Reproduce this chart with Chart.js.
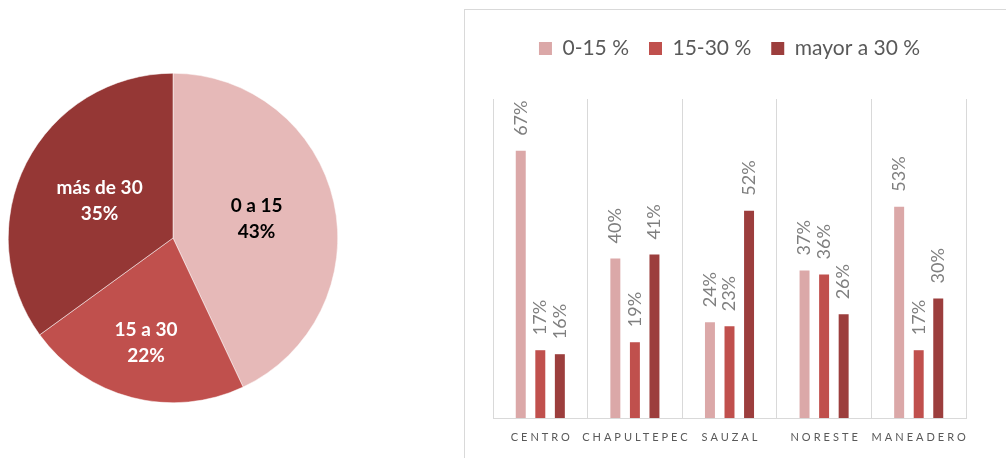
<!DOCTYPE html>
<html>
<head>
<meta charset="utf-8">
<script src="https://cdn.jsdelivr.net/npm/chart.js@4/dist/chart.umd.min.js"></script>
<style>
  html, body { margin: 0; padding: 0; background: #fff; overflow: hidden; }
  body { width: 1006px; height: 458px; position: relative; }
  #pieBox { position: absolute; left: 0; top: 0; width: 346px; height: 458px; }
  #barFrame { position: absolute; left: 464px; top: 9px; width: 600px; height: 500px; border: 1px solid #d9d9d9; }
  #barBox { position: absolute; left: 466px; top: 10px; width: 540px; height: 448px; }
</style>
</head>
<body>
<div id="pieBox"><canvas id="pieChart"></canvas></div>
<div id="barFrame"></div>
<div id="barBox"><canvas id="barChart"></canvas></div>
<script>
// pie: share by range
const pieLabels = ['0 a 15', '15 a 30', 'más de 30'];
const pieValues = [43, 22, 35];
const pieColors = ['#e6b9b8', '#c0504d', '#953735'];
const pieTextColors = ['#000000', '#ffffff', '#ffffff'];

// bars: share by zone
const zones = ['CENTRO', 'CHAPULTEPEC', 'SAUZAL', 'NORESTE', 'MANEADERO'];
const low = [67, 40, 24, 37, 53];
const mid = [17, 19, 23, 36, 17];
const high = [16, 41, 52, 26, 30];
const seriesNames = ['0-15 %', '15-30 %', 'mayor a 30 %'];
const barColors = ['#dba8a8', '#c0504d', '#9c3e3d'];

const pieLabelPlugin = {
  id: 'pieLabels',
  afterDatasetsDraw(chart) {
    const ctx = chart.ctx;
    const dist = [0.52, 0.66, 0.5];
    chart.getDatasetMeta(0).data.forEach((arc, i) => {
      const a = (arc.startAngle + arc.endAngle) / 2;
      const r = arc.outerRadius * dist[i];
      const x = arc.x + Math.cos(a) * r;
      const y = arc.y + Math.sin(a) * r;
      ctx.save();
      ctx.font = 'bold 19px Lato, "Liberation Sans", sans-serif';
      ctx.fillStyle = pieTextColors[i];
      ctx.textAlign = 'center';
      ctx.textBaseline = 'middle';
      ctx.fillText(pieLabels[i], x, y - 13);
      ctx.fillText(pieValues[i] + '%', x, y + 13);
      ctx.restore();
    });
  }
};

new Chart(document.getElementById('pieChart'), {
  type: 'pie',
  data: {
    labels: pieLabels,
    datasets: [{
      data: pieValues,
      backgroundColor: pieColors,
      borderColor: '#ffffff',
      borderWidth: 0.5,
    }],
  },
  options: {
    responsive: true,
    maintainAspectRatio: false,
    animation: false,
    layout: { padding: { left: 8, right: 8, top: 73, bottom: 55 } },
    plugins: { legend: { display: false }, tooltip: { enabled: false } },
  },
  plugins: [pieLabelPlugin],
});

const barValueLabels = {
  id: 'barValueLabels',
  afterDatasetsDraw(chart) {
    const ctx = chart.ctx;
    chart.data.datasets.forEach((ds, d) => {
      chart.getDatasetMeta(d).data.forEach((bar, i) => {
        ctx.save();
        ctx.translate(bar.x, bar.y - 15);
        ctx.rotate(-Math.PI / 2);
        ctx.font = '18px Lato, "Liberation Sans", sans-serif';
        ctx.fillStyle = '#7f7f7f';
        ctx.textAlign = 'left';
        ctx.textBaseline = 'middle';
        ctx.fillText(ds.data[i] + '%', 0, 0);
        ctx.restore();
      });
    });
  }
};

const zoneLabels = {
  id: 'zoneLabels',
  afterDraw(chart) {
    const ctx = chart.ctx;
    const xs = chart.scales.x;
    ctx.save();
    ctx.font = '11px Lato, "Liberation Sans", sans-serif';
    ctx.fillStyle = '#595959';
    ctx.letterSpacing = '3px';
    ctx.textAlign = 'center';
    ctx.textBaseline = 'middle';
    zones.forEach((z, i) => {
      ctx.fillText(z, xs.getPixelForValue(i) + 1.5, chart.chartArea.bottom + 19);
    });
    ctx.restore();
  }
};

const legendGap = {
  id: 'legendGap',
  beforeInit(chart) {
    const fit = chart.legend.fit;
    chart.legend.fit = function () {
      fit.bind(chart.legend)();
      this.height += 30;
    };
  }
};

new Chart(document.getElementById('barChart'), {
  type: 'bar',
  data: {
    labels: zones,
    datasets: [
      { label: seriesNames[0], data: low, backgroundColor: barColors[0] },
      { label: seriesNames[1], data: mid, backgroundColor: barColors[1] },
      { label: seriesNames[2], data: high, backgroundColor: barColors[2] },
    ],
  },
  options: {
    responsive: true,
    maintainAspectRatio: false,
    animation: false,
    layout: { padding: { left: 27, right: 40, top: 8, bottom: 40 } },
    datasets: { bar: { barPercentage: 0.51, categoryPercentage: 0.62 } },
    scales: {
      x: {
        grid: { color: '#d9d9d9', offset: true, drawTicks: false },
        border: { color: '#d9d9d9' },
        ticks: { display: false },
      },
      y: {
        display: false,
        min: 0,
        max: 80,
      },
    },
    plugins: {
      tooltip: { enabled: false },
      legend: {
        position: 'top',
        labels: {
          boxWidth: 13,
          boxHeight: 13,
          padding: 20,
          color: '#595959',
          font: { size: 21, family: 'Lato, "Liberation Sans", sans-serif' },
        },
      },
    },
  },
  plugins: [barValueLabels, zoneLabels, legendGap],
});
</script>
</body>
</html>
